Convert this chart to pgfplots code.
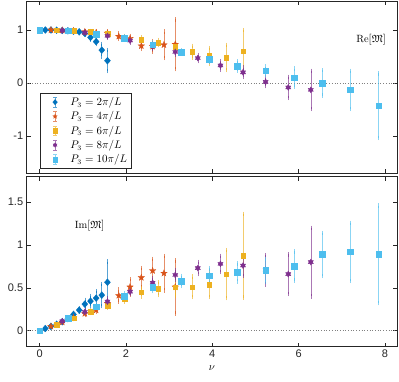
\documentclass[border=0pt]{standalone}
\usepackage{pgfplots}
\pgfplotsset{compat=1.18}
\usepackage{amssymb}
\usepackage{fontspec}
\newfontfamily\ticksf{Liberation Sans}
\usetikzlibrary{plotmarks}

\definecolor{c1}{rgb}{0,0.447,0.741}
\definecolor{c2}{rgb}{0.85,0.325,0.098}
\definecolor{c3}{rgb}{0.929,0.694,0.125}
\definecolor{c4}{rgb}{0.494,0.184,0.556}
\definecolor{c5}{rgb}{0.301,0.745,0.933}
\definecolor{axgray}{rgb}{0.15,0.15,0.15}

% filled diamond, nearly square
\pgfdeclareplotmark{fdiam}{%
  \pgfpathmoveto{\pgfqpoint{0pt}{1.15\pgfplotmarksize}}%
  \pgfpathlineto{\pgfqpoint{\pgfplotmarksize}{0pt}}%
  \pgfpathlineto{\pgfqpoint{0pt}{-1.15\pgfplotmarksize}}%
  \pgfpathlineto{\pgfqpoint{-\pgfplotmarksize}{0pt}}%
  \pgfpathclose\pgfusepathqfillstroke}
% filled five-pointed star
\pgfdeclareplotmark{pstar}{%
  \pgfpathmoveto{\pgfpointpolar{90}{\pgfplotmarksize}}%
  \pgfpathlineto{\pgfpointpolar{126}{0.42\pgfplotmarksize}}%
  \pgfpathlineto{\pgfpointpolar{162}{\pgfplotmarksize}}%
  \pgfpathlineto{\pgfpointpolar{198}{0.42\pgfplotmarksize}}%
  \pgfpathlineto{\pgfpointpolar{234}{\pgfplotmarksize}}%
  \pgfpathlineto{\pgfpointpolar{270}{0.42\pgfplotmarksize}}%
  \pgfpathlineto{\pgfpointpolar{306}{\pgfplotmarksize}}%
  \pgfpathlineto{\pgfpointpolar{342}{0.42\pgfplotmarksize}}%
  \pgfpathlineto{\pgfpointpolar{18}{\pgfplotmarksize}}%
  \pgfpathlineto{\pgfpointpolar{54}{0.42\pgfplotmarksize}}%
  \pgfpathclose\pgfusepathqfillstroke}
% filled six-pointed star
\pgfdeclareplotmark{hstar}{%
  \pgfpathmoveto{\pgfpointpolar{90}{\pgfplotmarksize}}%
  \pgfpathlineto{\pgfpointpolar{120}{0.58\pgfplotmarksize}}%
  \pgfpathlineto{\pgfpointpolar{150}{\pgfplotmarksize}}%
  \pgfpathlineto{\pgfpointpolar{180}{0.58\pgfplotmarksize}}%
  \pgfpathlineto{\pgfpointpolar{210}{\pgfplotmarksize}}%
  \pgfpathlineto{\pgfpointpolar{240}{0.58\pgfplotmarksize}}%
  \pgfpathlineto{\pgfpointpolar{270}{\pgfplotmarksize}}%
  \pgfpathlineto{\pgfpointpolar{300}{0.58\pgfplotmarksize}}%
  \pgfpathlineto{\pgfpointpolar{330}{\pgfplotmarksize}}%
  \pgfpathlineto{\pgfpointpolar{0}{0.58\pgfplotmarksize}}%
  \pgfpathlineto{\pgfpointpolar{30}{\pgfplotmarksize}}%
  \pgfpathlineto{\pgfpointpolar{60}{0.58\pgfplotmarksize}}%
  \pgfpathclose\pgfusepathqfillstroke}

\pgfplotsset{
  ser/.style n args={3}{only marks, color=#1, mark=#2, mark size=#3,
    mark options={fill=#1, draw=#1, line width=0.3pt},
    error bars/.cd, y dir=both, y explicit,
    error bar style={#1, draw opacity=0.65, line width=0.6pt},
    error mark options={#1, draw opacity=0.65, mark size=2.2pt, line width=0.6pt}},
  common/.style={scale only axis, width=370.3pt, xmin=-0.3, xmax=8.28,
    axis line style={axgray, line width=0.5pt}, tick style={axgray, line width=0.5pt},
    tick align=inside, major tick length=4pt,
    xtick={0,2,4,6,8},
    ticklabel style={font=\ticksf\fontsize{11}{12}\selectfont, text=axgray},
    /pgf/number format/assume math mode=true},
  zline/.style={gray, dotted, line width=0.7pt, forget plot},
}

\begin{document}
\begin{tikzpicture}
\useasboundingbox (-26.7pt,-381pt) rectangle (372.3pt,1pt);

% ---------- top panel: Re ----------
\begin{axis}[common, at={(0pt,0pt)}, anchor=north west,
    height=172pt, ymin=-1.70, ymax=1.547, ytick={-1,0,1},
    xticklabels={},
    legend cell align=left,
    legend style={at={(rel axis cs:0.036,0.465)}, anchor=north west,
      draw=axgray, line width=0.5pt, font=\fontsize{10.5}{12}\selectfont,
      row sep=0.6pt, inner sep=2pt},
    legend image code/.code={
      \path[draw=none, fill=none] (0cm,0cm) -- (0.92cm,0cm);
      \draw[#1, mark=none, draw opacity=0.65, line width=0.6pt]
        (0.45cm,-0.17cm) -- (0.45cm,0.17cm)
        (0.39cm,0.17cm) -- (0.51cm,0.17cm)
        (0.39cm,-0.17cm) -- (0.51cm,-0.17cm);
      \draw[#1, mark size=2.3pt] plot coordinates {(0.45cm,0cm)};
    }]
\addplot[zline] coordinates {(-0.3,0) (8.28,0)};

\addplot[ser={c1}{fdiam}{3pt}] coordinates {
 (0.131,1.0) +- (0,0.01) (0.262,1.0) +- (0,0.01) (0.393,0.995) +- (0,0.01)
 (0.524,0.99) +- (0,0.01) (0.654,0.985) +- (0,0.015) (0.785,0.975) +- (0,0.015)
 (0.916,0.965) +- (0,0.02) (1.047,0.935) +- (0,0.03) (1.178,0.86) +- (0,0.04)
 (1.309,0.78) +- (0,0.05) (1.440,0.62) +- (0,0.12) (1.571,0.42) +- (0,0.2)};
\addplot[ser={c2}{pstar}{3.4pt}] coordinates {
 (0.262,1.0) +- (0,0.01) (0.524,0.995) +- (0,0.01) (0.785,0.985) +- (0,0.015)
 (1.047,0.965) +- (0,0.02) (1.309,0.95) +- (0,0.02) (1.571,0.94) +- (0,0.03)
 (1.833,0.88) +- (0,0.05) (2.094,0.84) +- (0,0.05) (2.356,0.70) +- (0,0.06)
 (2.618,0.69) +- (0,0.1) (2.880,0.72) +- (0,0.25) (3.142,0.73) +- (0,0.47)};
\addplot[ser={c3}{square*}{2.3pt}] coordinates {
 (0.393,1.0) +- (0,0.01) (0.785,0.99) +- (0,0.01) (1.178,0.97) +- (0,0.015)
 (1.571,0.925) +- (0,0.02) (1.963,0.86) +- (0,0.03) (2.356,0.82) +- (0,0.04)
 (2.749,0.765) +- (0,0.05) (3.142,0.69) +- (0,0.06) (3.534,0.59) +- (0,0.11)
 (3.927,0.51) +- (0,0.15) (4.320,0.48) +- (0,0.24) (4.712,0.60) +- (0,0.4)};
\addplot[ser={c4}{hstar}{3pt}] coordinates {
 (0.524,0.99) +- (0,0.01) (1.047,0.95) +- (0,0.02) (1.571,0.89) +- (0,0.03)
 (2.094,0.80) +- (0,0.04) (2.618,0.69) +- (0,0.05) (3.142,0.585) +- (0,0.05)
 (3.665,0.47) +- (0,0.06) (4.189,0.33) +- (0,0.08) (4.712,0.20) +- (0,0.09)
 (5.236,0.02) +- (0,0.08) (5.760,-0.085) +- (0,0.2) (6.283,-0.13) +- (0,0.36)};
\addplot[ser={c5}{square*}{2.8pt}] coordinates {
 (0,1.0) +- (0,0.01) (0.654,0.985) +- (0,0.01) (1.309,0.925) +- (0,0.02)
 (1.963,0.845) +- (0,0.03) (2.618,0.72) +- (0,0.04) (3.272,0.585) +- (0,0.03)
 (3.927,0.45) +- (0,0.05) (4.581,0.32) +- (0,0.09) (5.236,0.23) +- (0,0.08)
 (5.890,0.10) +- (0,0.17) (6.545,0.0) +- (0,0.24) (7.199,-0.13) +- (0,0.36)
 (7.854,-0.43) +- (0,0.61)};
\legend{$P_3=2\pi/L$, $P_3=4\pi/L$, $P_3=6\pi/L$, $P_3=8\pi/L$, $P_3=10\pi/L$}
\node[font=\fontsize{10.5}{12}\selectfont] at (axis cs:7.68,0.81) {$\mathrm{Re}[\mathfrak{M}]$};
\end{axis}

% ---------- bottom panel: Im ----------
\begin{axis}[common, at={(0pt,-175.7pt)}, anchor=north west,
    height=170pt, ymin=-0.187, ymax=1.797, ytick={0,0.5,1,1.5},
    xlabel={$\nu$}, xlabel style={font=\fontsize{11}{12}\selectfont, yshift=-1pt}]
\addplot[zline] coordinates {(-0.3,0) (8.28,0)};

\addplot[ser={c1}{fdiam}{3pt}] coordinates {
 (0.131,0.025) +- (0,0.005) (0.262,0.05) +- (0,0.008) (0.393,0.075) +- (0,0.01)
 (0.524,0.105) +- (0,0.01) (0.654,0.14) +- (0,0.012) (0.785,0.19) +- (0,0.015)
 (0.916,0.24) +- (0,0.02) (1.047,0.31) +- (0,0.05) (1.178,0.345) +- (0,0.06)
 (1.309,0.38) +- (0,0.08) (1.440,0.415) +- (0,0.13) (1.571,0.565) +- (0,0.24)};
\addplot[ser={c2}{pstar}{3.4pt}] coordinates {
 (0.262,0.05) +- (0,0.01) (0.524,0.10) +- (0,0.01) (0.785,0.15) +- (0,0.015)
 (1.047,0.20) +- (0,0.02) (1.309,0.24) +- (0,0.02) (1.571,0.32) +- (0,0.03)
 (1.833,0.41) +- (0,0.07) (2.094,0.51) +- (0,0.09) (2.356,0.62) +- (0,0.11)
 (2.618,0.70) +- (0,0.14) (2.880,0.67) +- (0,0.2) (3.142,0.51) +- (0,0.31)};
\addplot[ser={c3}{square*}{2.3pt}] coordinates {
 (0.393,0.07) +- (0,0.01) (0.785,0.145) +- (0,0.01) (1.178,0.22) +- (0,0.015)
 (1.571,0.29) +- (0,0.02) (1.963,0.37) +- (0,0.03) (2.356,0.45) +- (0,0.05)
 (2.749,0.49) +- (0,0.076) (3.142,0.51) +- (0,0.1) (3.534,0.51) +- (0,0.12)
 (3.927,0.54) +- (0,0.15) (4.320,0.66) +- (0,0.28) (4.712,0.875) +- (0,0.49)};
\addplot[ser={c4}{hstar}{3pt}] coordinates {
 (0.524,0.11) +- (0,0.01) (1.047,0.22) +- (0,0.02) (1.571,0.34) +- (0,0.04)
 (2.094,0.455) +- (0,0.03) (2.618,0.56) +- (0,0.05) (3.142,0.65) +- (0,0.06)
 (3.665,0.73) +- (0,0.07) (4.189,0.78) +- (0,0.095) (4.712,0.76) +- (0,0.12)
 (5.236,0.71) +- (0,0.17) (5.760,0.66) +- (0,0.23) (6.283,0.80) +- (0,0.4)};
\addplot[ser={c5}{square*}{2.8pt}] coordinates {
 (0,0) +- (0,0.005) (0.654,0.145) +- (0,0.01) (1.309,0.28) +- (0,0.02)
 (1.963,0.40) +- (0,0.04) (2.618,0.51) +- (0,0.05) (3.272,0.58) +- (0,0.06)
 (3.927,0.64) +- (0,0.086) (4.581,0.68) +- (0,0.105) (5.236,0.705) +- (0,0.135)
 (5.890,0.755) +- (0,0.17) (6.545,0.89) +- (0,0.25) (7.199,0.92) +- (0,0.34)
 (7.854,0.89) +- (0,0.57)};
\node[font=\fontsize{10.5}{12}\selectfont] at (axis cs:1.16,1.23) {$\mathrm{Im}[\mathfrak{M}]$};
\end{axis}
\end{tikzpicture}
\end{document}
